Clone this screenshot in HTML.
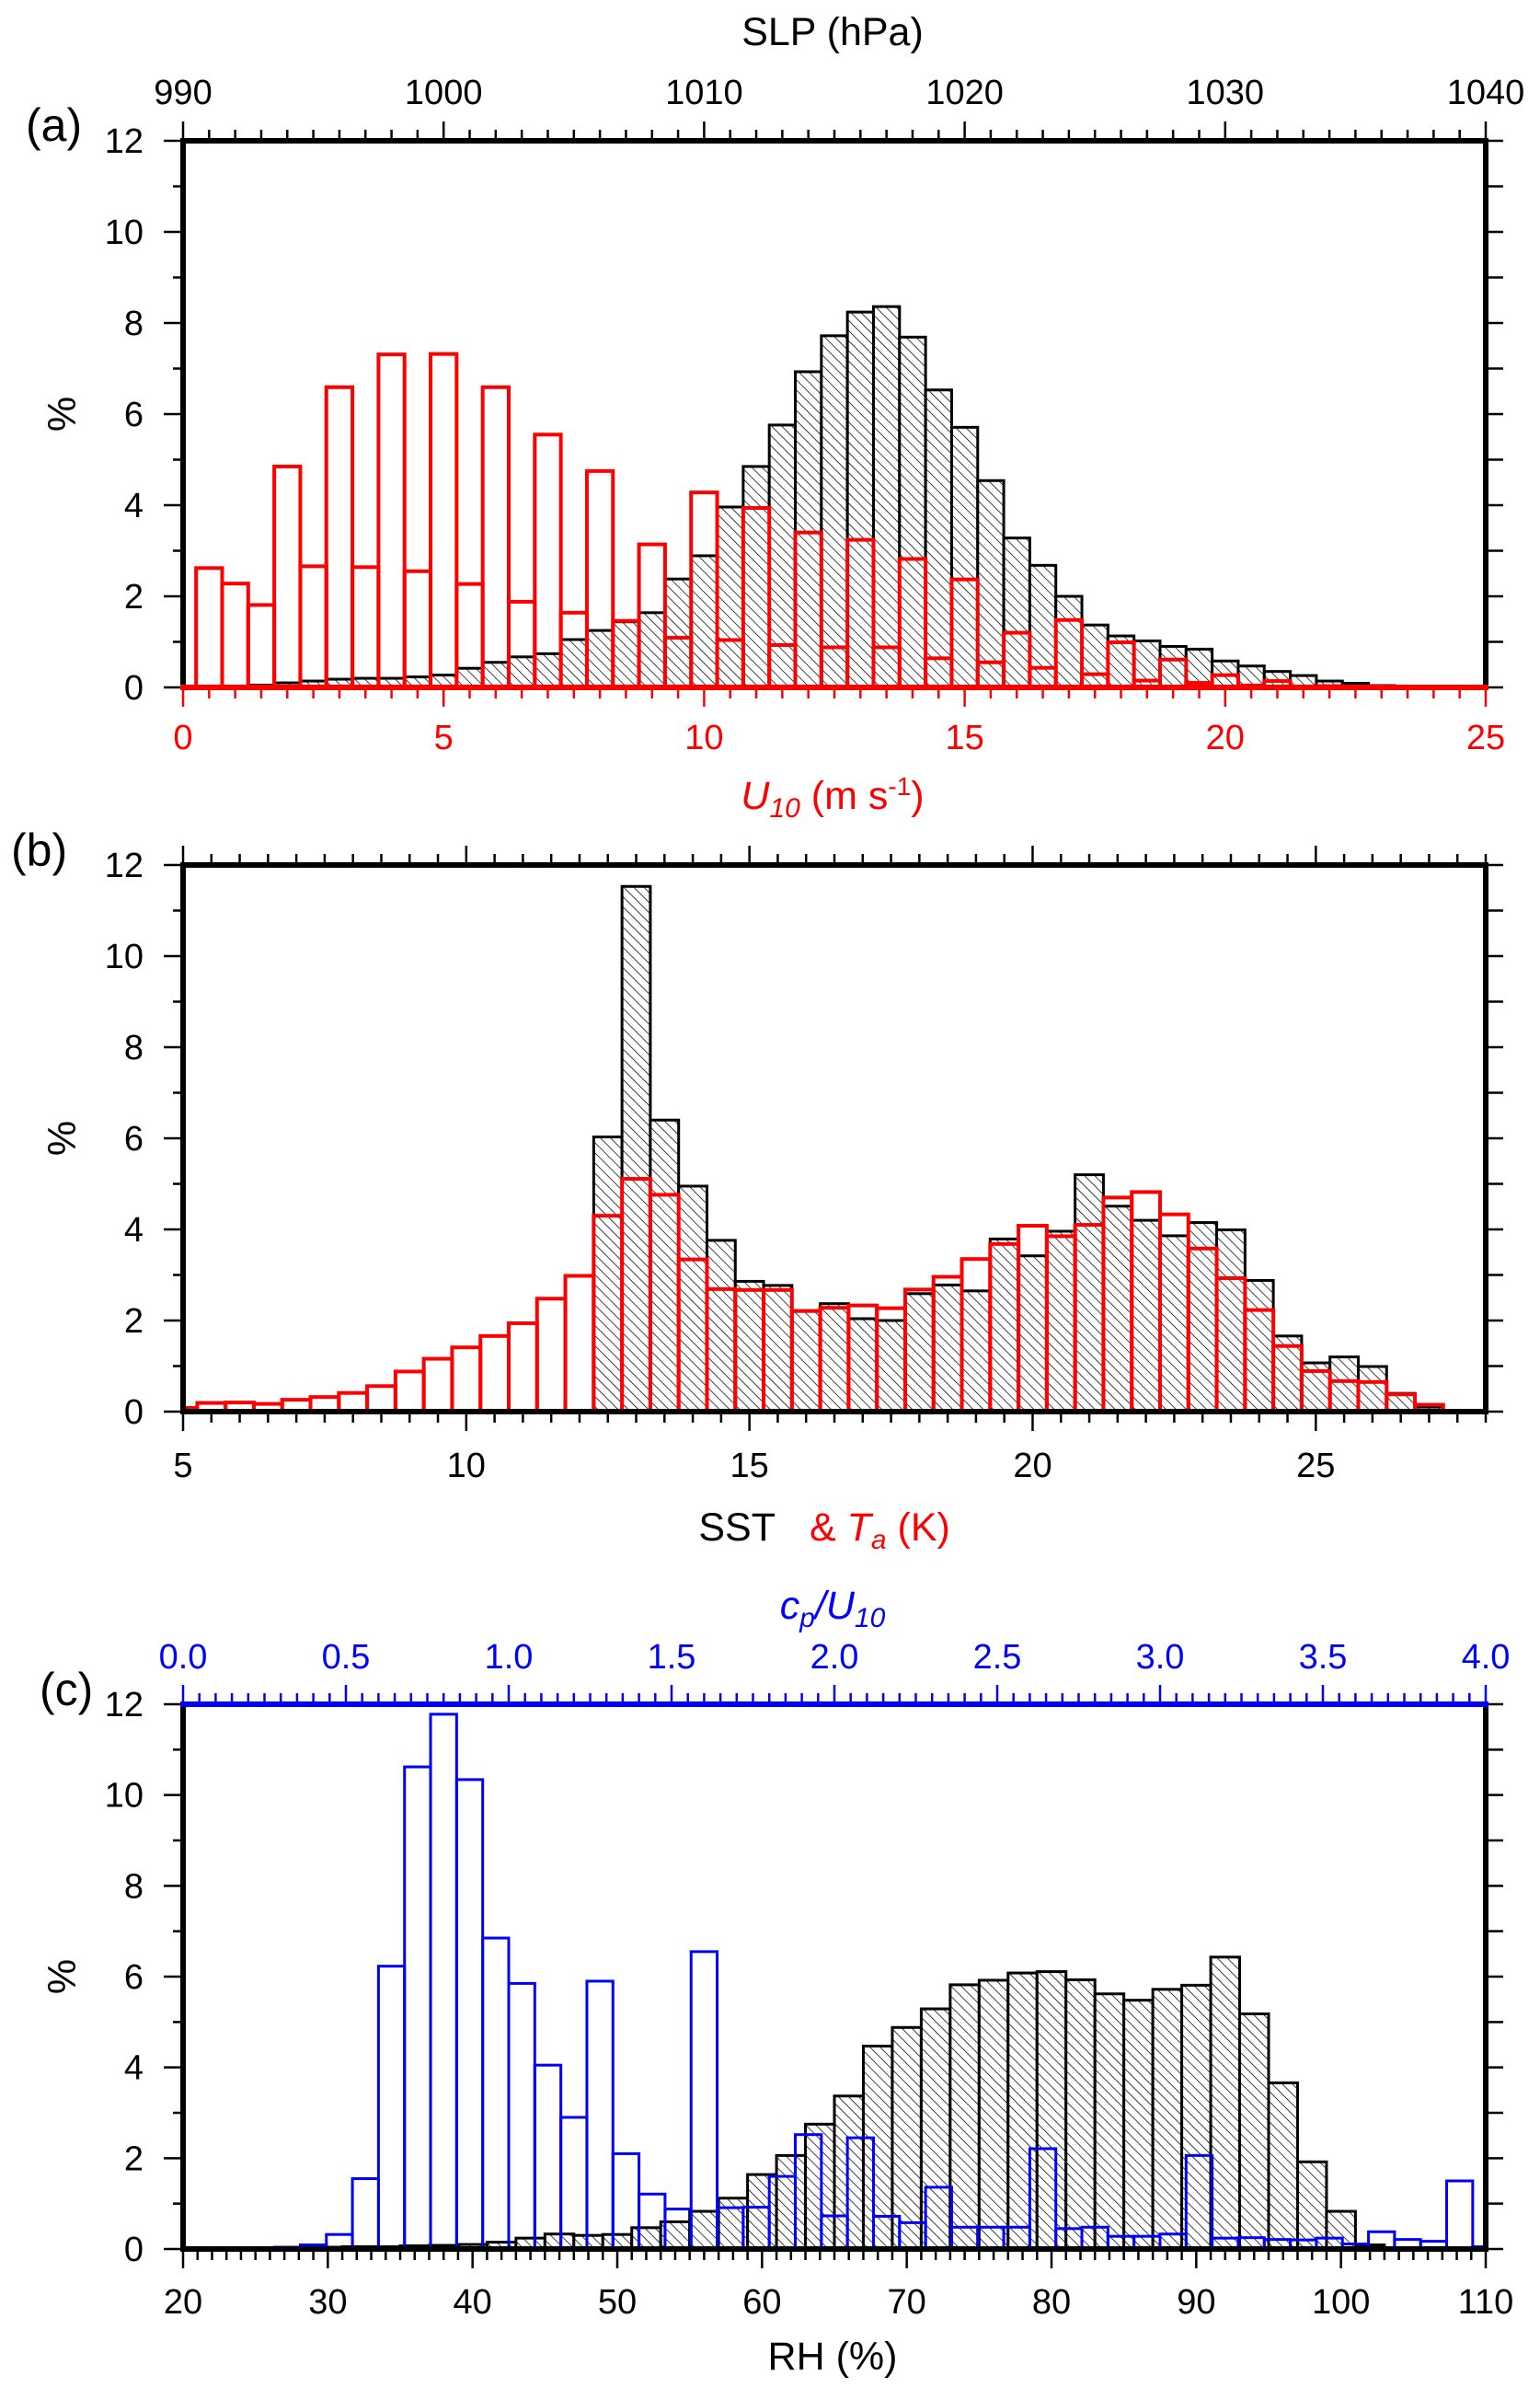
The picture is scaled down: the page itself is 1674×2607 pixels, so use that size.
<!DOCTYPE html>
<html><head><meta charset="utf-8"><title>Histograms</title>
<style>
html,body{margin:0;padding:0;background:#fff;}
svg{display:block;font-family:"Liberation Sans",Arial,sans-serif;}
</style></head>
<body>
<svg id="fig" xmlns="http://www.w3.org/2000/svg" width="1674" height="2607" viewBox="0 0 1674 2607">
<defs>
<pattern id="hatch" width="7.8" height="7.8" patternUnits="userSpaceOnUse" patternTransform="rotate(-45)">
<rect width="7.8" height="7.8" fill="#fff"/>
<line x1="0" y1="0" x2="0" y2="7.8" stroke="#000" stroke-width="1.5"/>
</pattern>
<clipPath id="clipA"><rect x="199" y="153" width="1416" height="594"/></clipPath>
<clipPath id="clipB"><rect x="199" y="940" width="1416" height="594"/></clipPath>
<clipPath id="clipC"><rect x="199" y="1852" width="1416" height="592"/></clipPath>
</defs>
<g id="layer"></g>
</svg>
<script>
// ---------- Panel (a) data ----------
const slpCenters = [991,992,993,994,995,996,997,998,999,1000,1001,1002,1003,1004,1005,1006,1007,1008,1009,1010,1011,1012,1013,1014,1015,1016,1017,1018,1019,1020,1021,1022,1023,1024,1025,1026,1027,1028,1029,1030,1031,1032,1033,1034,1035,1036,1037,1038,1039];
const slpValues = [0.02,0.03,0.05,0.1,0.14,0.18,0.2,0.2,0.23,0.27,0.42,0.55,0.67,0.74,1.05,1.25,1.44,1.64,2.38,2.89,3.96,4.85,5.76,6.93,7.72,8.24,8.36,7.69,6.53,5.71,4.54,3.28,2.68,2.0,1.37,1.13,1.02,0.9,0.84,0.58,0.47,0.35,0.26,0.14,0.09,0.04,0.02,0.01,0.01];
const u10Centers = [0.5,1,1.5,2,2.5,3,3.5,4,4.5,5,5.5,6,6.5,7,7.5,8,8.5,9,9.5,10,10.5,11,11.5,12,12.5,13,13.5,14,14.5,15,15.5,16,16.5,17,17.5,18,18.5,19,19.5,20,20.5,21,21.5,22];
const u10Values = [2.62,2.28,1.81,4.85,2.66,6.59,2.64,7.31,2.55,7.32,2.27,6.59,1.88,5.55,1.64,4.75,1.46,3.14,1.09,4.28,1.04,3.94,0.93,3.40,0.88,3.24,0.88,2.82,0.64,2.37,0.55,1.20,0.43,1.48,0.29,0.99,0.15,0.61,0.1,0.27,0.04,0.14,0.02,0.03];
const slpTicks = [990,1000,1010,1020,1030,1040];
const u10Ticks = [0,5,10,15,20,25];
// ---------- Panel (b) data ----------
const taCenters = [5,5.5,6,6.5,7,7.5,8,8.5,9,9.5,10,10.5,11,11.5,12,12.5,13,13.5,14,14.5,15,15.5,16,16.5,17,17.5,18,18.5,19,19.5,20,20.5,21,21.5,22,22.5,23,23.5,24,24.5,25,25.5,26,26.5,27];
const taValues = [0.08,0.19,0.2,0.17,0.26,0.32,0.41,0.56,0.88,1.16,1.41,1.66,1.94,2.48,2.98,4.3,5.11,4.76,3.34,2.69,2.67,2.67,2.21,2.28,2.33,2.27,2.68,2.96,3.35,3.68,4.08,3.85,4.1,4.7,4.82,4.33,3.58,2.93,2.23,1.44,0.89,0.67,0.65,0.38,0.15];
const sstCenters = [12.5,13,13.5,14,14.5,15,15.5,16,16.5,17,17.5,18,18.5,19,19.5,20,20.5,21,21.5,22,22.5,23,23.5,24,24.5,25,25.5,26,26.5,27];
const sstValues = [6.03,11.53,6.4,4.95,3.76,2.86,2.77,2.2,2.37,2.04,2.0,2.59,2.78,2.65,3.79,3.42,3.96,5.2,4.51,4.2,3.86,4.15,3.99,2.88,1.66,1.07,1.2,0.99,0.4,0.1];
const tTicks = [5,10,15,20,25];
// ---------- Panel (c) data ----------
const rhCenters = [24,26,28,30,32,34,36,38,40,42,44,46,48,50,52,54,56,58,60,62,64,66,68,70,72,74,76,78,80,82,84,86,88,90,92,94,96,98,100,102,104];
const rhValues = [0.03,0.02,0.03,0.04,0.05,0.05,0.07,0.08,0.1,0.15,0.24,0.33,0.3,0.32,0.47,0.6,0.83,1.12,1.64,2.06,2.75,3.37,4.47,4.88,5.29,5.82,5.92,6.08,6.11,5.93,5.62,5.48,5.72,5.81,6.43,5.18,3.66,1.92,0.83,0.09,0.03];
const cpCenters = [0.32,0.40,0.48,0.56,0.64,0.72,0.80,0.88,0.96,1.04,1.12,1.20,1.28,1.36,1.44,1.52,1.60,1.68,1.76,1.84,1.92,2.00,2.08,2.16,2.24,2.32,2.40,2.48,2.56,2.64,2.72,2.80,2.88,2.96,3.04,3.12,3.20,3.28,3.36,3.44,3.52,3.60,3.68,3.76,3.84,3.92,4.00];
const cpValues = [0.04,0.09,0.32,1.55,6.23,10.62,11.78,10.34,6.85,5.85,4.05,2.9,5.9,2.1,1.21,0.88,6.55,0.91,0.92,1.6,2.52,0.73,2.45,0.72,0.58,1.36,0.48,0.48,0.48,2.21,0.45,0.48,0.28,0.28,0.33,2.06,0.24,0.25,0.21,0.2,0.24,0.11,0.38,0.21,0.17,1.5,0.05];
const rhTicks = [20,30,40,50,60,70,80,90,100,110];
const cpTicks = ["0.0","0.5","1.0","1.5","2.0","2.5","3.0","3.5","4.0"];
const pctTicks = [0,2,4,6,8,10,12];

// ---------- geometry ----------
const NS = "http://www.w3.org/2000/svg";
const layer = document.getElementById('layer');
const L = 199, R = 1615, W = R - L;
const xU = u => L + u / 25 * W;
const xP = p => xU((p - 990) / 2);
const xT = t => L + (t - 5) / 23 * W;
const xR = r => L + (r - 20) / 90 * W;
const xC = c => L + c / 4 * W;
const yA = v => 747 - v / 12 * 594;
const yB = v => 1534 - v / 12 * 594;
const yC = v => 2444 - v / 12 * 592;
const FS = 38;

function mk(tag, attrs, parent) {
  const e = document.createElementNS(NS, tag);
  for (const k in attrs) e.setAttribute(k, attrs[k]);
  (parent || layer).appendChild(e);
  return e;
}
function line(x1, y1, x2, y2, color, w, parent) {
  const e = mk('line', {x1, y1, x2, y2, stroke: color, 'stroke-width': w}, parent);
  
  
  return e;
}
function text(x, y, s, size, color, anchor) {
  const e = mk('text', {x, y, 'font-size': size, fill: color, 'text-anchor': anchor || 'middle'});
  e.textContent = s;
  
  
  return e;
}
function bars(centers, values, width, xf, yf, fill, stroke, sw, clip, name) {
  const g = mk('g', {'clip-path': 'url(#' + clip + ')'});
  
  
  for (let i = 0; i < centers.length; i++) {
    const x0 = xf(centers[i] - width / 2), x1 = xf(centers[i] + width / 2);
    const y0 = yf(values[i]), yb = yf(0);
    const r = mk('rect', {x: x0, y: y0, width: x1 - x0, height: yb - y0, fill: fill, stroke: stroke, 'stroke-width': sw}, g);
    
    
  }
}
function yAxis(yf) {
  for (let v = 0; v <= 12; v++) {
    const y = yf(v);
    const major = v % 2 === 0;
    line(L - (major ? 21 : 11), y, L, y, '#000', 2.5);
    line(R, y, R + 19, y, '#000', 2.5);
  }
  pctTicks.forEach(v => text(156, yf(v) + 13, String(v), FS, '#000', 'end'));
}
function hTicks(xf, from, to, step, majorEvery, y, dir, color) {
  const n = Math.round((to - from) / step);
  for (let i = 0; i <= n; i++) {
    const v = from + i * step;
    const x = xf(v);
    const major = i % majorEvery === 0;
    const len = major ? 21 : 12;
    line(x, y, x, y + dir * len, color, 2.5);
  }
}

// ---------- Panel (a) ----------
bars(slpCenters, slpValues, 1, xP, yA, 'url(#hatch)', '#000', 3, 'clipA', 'slp');
bars(u10Centers, u10Values, 0.5, xU, yA, 'none', '#f00', 4, 'clipA', 'u10');
yAxis(yA);
hTicks(xP, 990, 1040, 1, 10, 153, -1, '#000');
hTicks(xU, 0, 25, 0.5, 10, 747, 1, '#f00');
slpTicks.forEach(p => text(xP(p), 113, String(p), FS, '#000'));
u10Ticks.forEach(u => text(xU(u), 814, String(u), FS, '#f00'));
mk('path', {d: `M${L},747 L${L},153 L${R},153 L${R},747`, fill: 'none', stroke: '#000', 'stroke-width': 6});
line(L - 3, 747, R + 3, 747, '#f00', 6);

// ---------- Panel (b) ----------
bars(sstCenters, sstValues, 0.5, xT, yB, 'url(#hatch)', '#000', 3, 'clipB', 'sst');
bars(taCenters, taValues, 0.5, xT, yB, 'none', '#f00', 4, 'clipB', 'ta');
yAxis(yB);
hTicks(xT, 5, 28, 0.5, 10, 940, -1, '#000');
hTicks(xT, 5, 28, 0.5, 10, 1534, 1, '#000');
tTicks.forEach(t => text(xT(t), 1605, String(t), FS, '#000'));
mk('rect', {x: L, y: 940, width: W, height: 594, fill: 'none', stroke: '#000', 'stroke-width': 6});

// ---------- Panel (c) ----------
bars(rhCenters, rhValues, 2, xR, yC, 'url(#hatch)', '#000', 3, 'clipC', 'rh');
bars(cpCenters, cpValues, 0.08, xC, yC, 'none', '#00f', 3, 'clipC', 'cp-u10');
yAxis(yC);
hTicks(xC, 0, 4, 0.05, 10, 1852, -1, '#00f');
hTicks(xR, 20, 110, 1, 10, 2444, 1, '#000');
rhTicks.forEach(r => text(xR(r), 2514, String(r), FS, '#000'));
cpTicks.forEach(c => text(xC(parseFloat(c)), 1813, c, FS, '#00f'));
mk('path', {d: `M${L},1852 L${L},2444 L${R},2444 L${R},1852`, fill: 'none', stroke: '#000', 'stroke-width': 6});
line(L - 3, 1852, R + 3, 1852, '#00f', 6);
</script>
<svg style="position:absolute;left:0;top:0" width="1674" height="2607" font-family="Liberation Sans, Arial, sans-serif">
<text x="28" y="153" font-size="50">(a)</text>
<text x="12" y="941" font-size="50">(b)</text>
<text x="43" y="1853" font-size="50">(c)</text>
<text x="905" y="49" font-size="43" text-anchor="middle">SLP (hPa)</text>
<text x="905" y="879" font-size="43" text-anchor="middle" fill="#f00"><tspan font-style="italic">U</tspan><tspan font-style="italic" font-size="30" dy="9">10</tspan><tspan dy="-9"> (m s</tspan><tspan font-size="28" dy="-15">-1</tspan><tspan dy="15">)</tspan></text>
<text x="843" y="1674" font-size="43" text-anchor="end">SST</text>
<text x="880" y="1674" font-size="43" fill="#f00">&amp; <tspan font-style="italic">T</tspan><tspan font-style="italic" font-size="30" dy="9">a</tspan><tspan dy="-9"> (K)</tspan></text>
<text x="905" y="1759" font-size="43" text-anchor="middle" fill="#00f" font-style="italic">c<tspan font-size="30" dy="9">p</tspan><tspan dy="-9">/U</tspan><tspan font-size="30" dy="9">10</tspan></text>
<text x="905" y="2575" font-size="43" text-anchor="middle">RH (%)</text>
<text x="0" y="0" font-size="43" text-anchor="middle" transform="translate(82,450) rotate(-90)">%</text>
<text x="0" y="0" font-size="43" text-anchor="middle" transform="translate(82,1237) rotate(-90)">%</text>
<text x="0" y="0" font-size="43" text-anchor="middle" transform="translate(82,2148) rotate(-90)">%</text>
</svg>
</body></html>
